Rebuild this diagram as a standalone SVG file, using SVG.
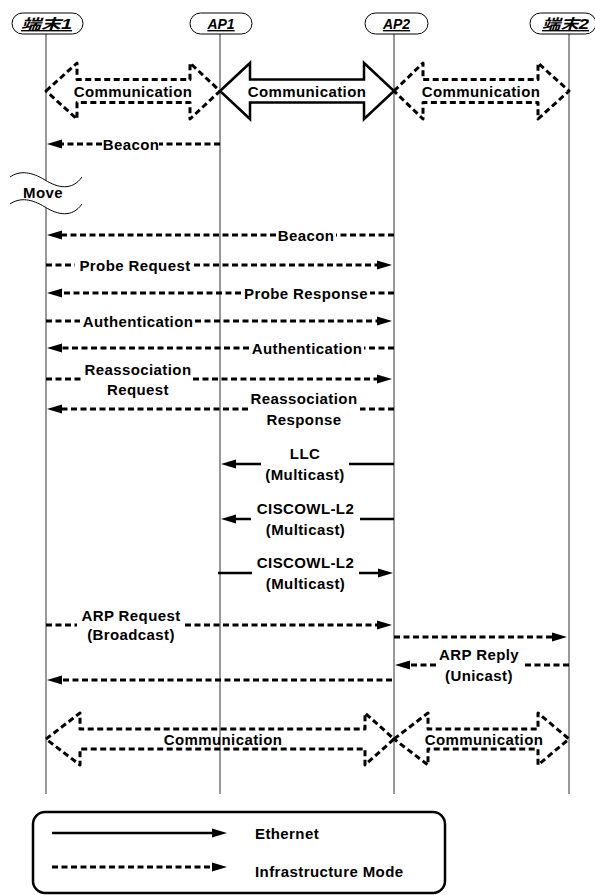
<svg xmlns="http://www.w3.org/2000/svg" width="595" height="895" viewBox="0 0 595 895">
<style>
text{font-family:"Liberation Sans","Noto Sans CJK JP",sans-serif;font-weight:bold;font-size:15px;fill:#000;letter-spacing:0.4px}
.c{text-anchor:middle}
.hd{font-style:italic;text-decoration:underline;letter-spacing:0;font-size:14px}
.pill{fill:#fff;stroke:#000;stroke-width:1}
.life{stroke:#333;stroke-width:1;fill:none}
.dash{stroke:#000;stroke-width:3;stroke-dasharray:6 3.5;fill:none}
.solid{stroke:#000;stroke-width:2.5;fill:none}
.big{stroke:#000;stroke-width:3;stroke-dasharray:6 3.5;fill:none;stroke-linejoin:round}
.bigs{stroke:#000;stroke-width:2.5;fill:#fff;stroke-linejoin:miter}
.wave{stroke:#000;stroke-width:1;fill:none}
</style>
<defs>
<marker id="ah" markerUnits="userSpaceOnUse" markerWidth="16" markerHeight="10" viewBox="0 0 16 10" refX="6" refY="5" orient="auto">
<path d="M0,0.5 L15,5 L0,9.5 Z" fill="#000"/>
</marker>
</defs>
<rect width="595" height="895" fill="#fff"/>

<g id="lifelines">
<line class="life" x1="46" y1="34" x2="46" y2="794"/>
<line class="life" x1="220" y1="34" x2="220" y2="794"/>
<line class="life" x1="394" y1="34" x2="394" y2="794"/>
<line class="life" x1="569" y1="34" x2="569" y2="794"/>
</g>

<g id="node-t1">
<rect class="pill" x="12" y="13" width="71" height="21" rx="10.5"/>
<text class="hd" x="21" y="29" textLength="51" lengthAdjust="spacingAndGlyphs">端末1</text>
</g>
<g id="node-ap1">
<rect class="pill" x="190" y="13" width="62" height="21" rx="10.5"/>
<text class="hd c" x="221" y="29">AP1</text>
</g>
<g id="node-ap2">
<rect class="pill" x="365" y="13" width="63" height="21" rx="10.5"/>
<text class="hd c" x="396.5" y="29">AP2</text>
</g>
<g id="node-t2">
<rect class="pill" x="530" y="13" width="66" height="21" rx="10.5"/>
<text class="hd" x="542" y="29" textLength="47" lengthAdjust="spacingAndGlyphs">端末2</text>
</g>

<g id="comm-top">
<path class="big" d="M46,91 L77,63 L77,79.5 L190,79.5 L190,63 L220,91 L190,119 L190,102.5 L77,102.5 L77,119 Z"/>
<text class="c" x="133" y="97">Communication</text>
<path class="bigs" d="M220,91 L250,63 L250,79.5 L364,79.5 L364,63 L394,91 L364,119 L364,102.5 L250,102.5 L250,119 Z"/>
<text class="c" x="307" y="97">Communication</text>
<path class="big" d="M394,91 L423,63 L423,79.5 L538,79.5 L538,63 L569,91 L538,119 L538,102.5 L423,102.5 L423,119 Z"/>
<text class="c" x="481" y="97">Communication</text>
</g>

<g id="move">
<path d="M10,177 C20,170 32,172 45,180 C58,188 72,191 82,177 L82,204 C72,218 58,215 45,207 C32,199 20,197 10,204 Z" fill="#fff"/>
<path class="wave" d="M10,177 C20,170 32,172 45,180 C58,188 72,191 82,177"/>
<path class="wave" d="M10,204 C20,197 32,199 45,207 C58,215 72,218 82,204"/>
<text x="23" y="198">Move</text>
</g>

<g id="connectors">
<path class="dash" marker-end="url(#ah)" d="M220,144 H159 M102,144 H56"/>
<text class="c" x="131" y="149.5">Beacon</text>

<path class="dash" marker-end="url(#ah)" d="M394,235 H336 M276,235 H56"/>
<text class="c" x="306" y="240.5">Beacon</text>

<path class="dash" marker-end="url(#ah)" d="M46,265 H75 M194,265 H383"/>
<text class="c" x="135" y="270.5">Probe Request</text>

<path class="dash" marker-end="url(#ah)" d="M394,293 H370 M241,293 H56"/>
<text class="c" x="306" y="298.5">Probe Response</text>

<path class="dash" marker-end="url(#ah)" d="M46,321 H80 M195,321 H383"/>
<text class="c" x="138" y="326.5">Authentication</text>

<path class="dash" marker-end="url(#ah)" d="M394,348 H364 M249,348 H56"/>
<text class="c" x="307" y="353.5">Authentication</text>

<path class="dash" marker-end="url(#ah)" d="M46,379 H83 M193,379 H383"/>
<text class="c" x="138" y="375">Reassociation</text>
<text class="c" x="138" y="395">Request</text>

<path class="dash" marker-end="url(#ah)" d="M394,409 H360 M248,409 H56"/>
<text class="c" x="304" y="404">Reassociation</text>
<text class="c" x="304" y="425">Response</text>

<path class="solid" marker-end="url(#ah)" d="M394,464 H349 M261,464 H230"/>
<text class="c" x="305" y="459">LLC</text>
<text class="c" x="305" y="480">(Multicast)</text>

<path class="solid" marker-end="url(#ah)" d="M394,519 H360 M251,519 H230"/>
<text class="c" x="305.5" y="514">CISCOWL-L2</text>
<text class="c" x="305.5" y="535">(Multicast)</text>

<path class="solid" marker-end="url(#ah)" d="M218,573 H252 M359,573 H384"/>
<text class="c" x="305.5" y="568">CISCOWL-L2</text>
<text class="c" x="305.5" y="589">(Multicast)</text>

<path class="dash" marker-end="url(#ah)" d="M46,625 H77 M185,625 H383"/>
<text class="c" x="131" y="621">ARP Request</text>
<text class="c" x="131" y="640">(Broadcast)</text>

<path class="dash" marker-end="url(#ah)" d="M394,637 H558"/>

<path class="dash" marker-end="url(#ah)" d="M569,665 H522 M436,665 H404"/>
<text class="c" x="479" y="660">ARP Reply</text>
<text class="c" x="479" y="681">(Unicast)</text>

<path class="dash" marker-end="url(#ah)" d="M392,680 H56"/>
</g>

<g id="comm-bottom">
<path class="big" d="M46,739 L80,713 L80,729 L365,729 L365,713 L394,739 L365,765 L365,749 L80,749 L80,765 Z"/>
<text class="c" x="223" y="745">Communication</text>
<path class="big" d="M394,739 L428,713 L428,729 L538,729 L538,713 L569,739 L538,765 L538,749 L428,749 L428,765 Z"/>
<text class="c" x="484" y="745">Communication</text>
</g>

<g id="legend">
<rect x="33" y="812" width="412" height="81" rx="12" fill="#fff" stroke="#000" stroke-width="2.5"/>
<path class="solid" marker-end="url(#ah)" d="M52,833 H218"/>
<text x="255" y="839">Ethernet</text>
<path class="dash" marker-end="url(#ah)" d="M52,867 H218"/>
<text x="255" y="877">Infrastructure Mode</text>
</g>
</svg>
